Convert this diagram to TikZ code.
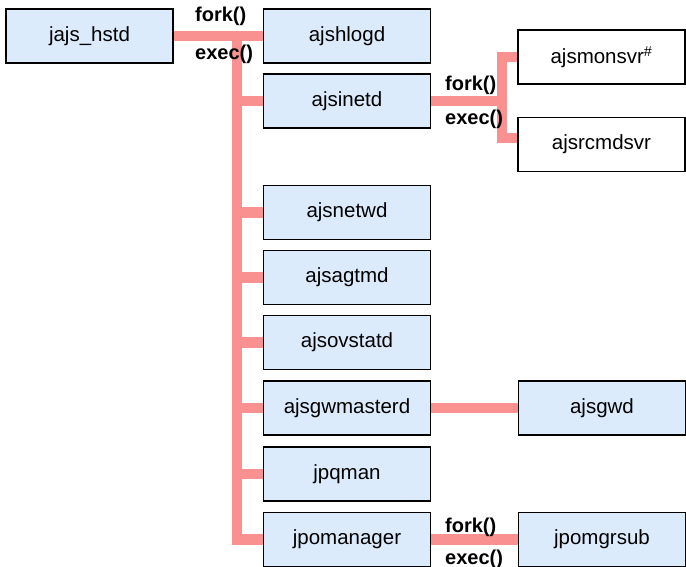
\documentclass[tikz,border=0pt]{standalone}
\usepackage{fontspec}
\setmainfont{Liberation Sans}
\usetikzlibrary{backgrounds}
\definecolor{procfill}{RGB}{220,235,252}
\definecolor{linkpink}{RGB}{250,145,145}
\begin{document}
\begin{tikzpicture}[x=1pt,y=-1pt,
  proc/.style={draw=black,line width=1.4pt,fill=procfill,rectangle,
    minimum width=167pt,minimum height=54pt,inner sep=0pt,
    font=\fontsize{20.5}{24}\selectfont},
  child/.style={proc,fill=white},
  link/.style={draw=linkpink,line width=10.5pt,line cap=butt,line join=miter},
  call/.style={font=\bfseries\fontsize{20}{24}\selectfont,inner sep=0pt}]
\useasboundingbox (0,0) rectangle (686,567);

% process boxes
\node[proc] (hstd) at (89.5,36) {jajs\_hstd};
\node[proc] (hlogd) at (347,36) {ajshlogd};
\node[proc] (inetd) at (347,101) {ajsinetd};
\node[child] (monsvr) at (601.5,57) {ajsmonsvr\textsuperscript{\#}};
\node[child] (rcmdsvr) at (601.5,144.5) {ajsrcmdsvr};
\node[proc] (netwd) at (347,212.5) {ajsnetwd};
\node[proc] (agtmd) at (347,277.5) {ajsagtmd};
\node[proc] (ovstatd) at (347,342.5) {ajsovstatd};
\node[proc] (gwmaster) at (347,408) {ajsgwmasterd};
\node[proc] (gwd) at (602,408) {ajsgwd};
\node[proc] (jpqman) at (347,474) {jpqman};
\node[proc] (jpoman) at (347,539.5) {jpomanager};
\node[proc] (jposub) at (602,539.5) {jpomgrsub};

% branching points of the connectors
\coordinate (trunk) at (237,36);
\coordinate (split) at (502,101);
\coordinate (rcin) at ([yshift=6.5pt]rcmdsvr.west);

% connectors, kept underneath the boxes
\begin{scope}[on background layer]
\path[link] (hstd.east) -- (hlogd.west);
\path[link] (trunk) |- (jpoman.west);
\foreach \n in {inetd,netwd,agtmd,ovstatd,gwmaster,jpqman}
  \path[link] (trunk |- \n.west) -- (\n.west);
\path[link] (inetd.east) -- (split);
\path[link] (monsvr.west) -| (split) |- (rcin);
\path[link] (gwmaster.east) -- (gwd.west);
\path[link] (jpoman.east) -- (jposub.west);
\end{scope}

% call labels
\node[call,anchor=base west] (f1) at (195,22) {fork()};
\node[call,anchor=base west] (e1) at (195,60) {exec()};
\node[call,anchor=base west] (f2) at (445,91) {fork()};
\node[call,anchor=base west] (e2) at (445,125) {exec()};
\node[call,anchor=base west] (f3) at (445,532) {fork()};
\node[call,anchor=base west] (e3) at (445,564) {exec()};
\end{tikzpicture}
\end{document}
